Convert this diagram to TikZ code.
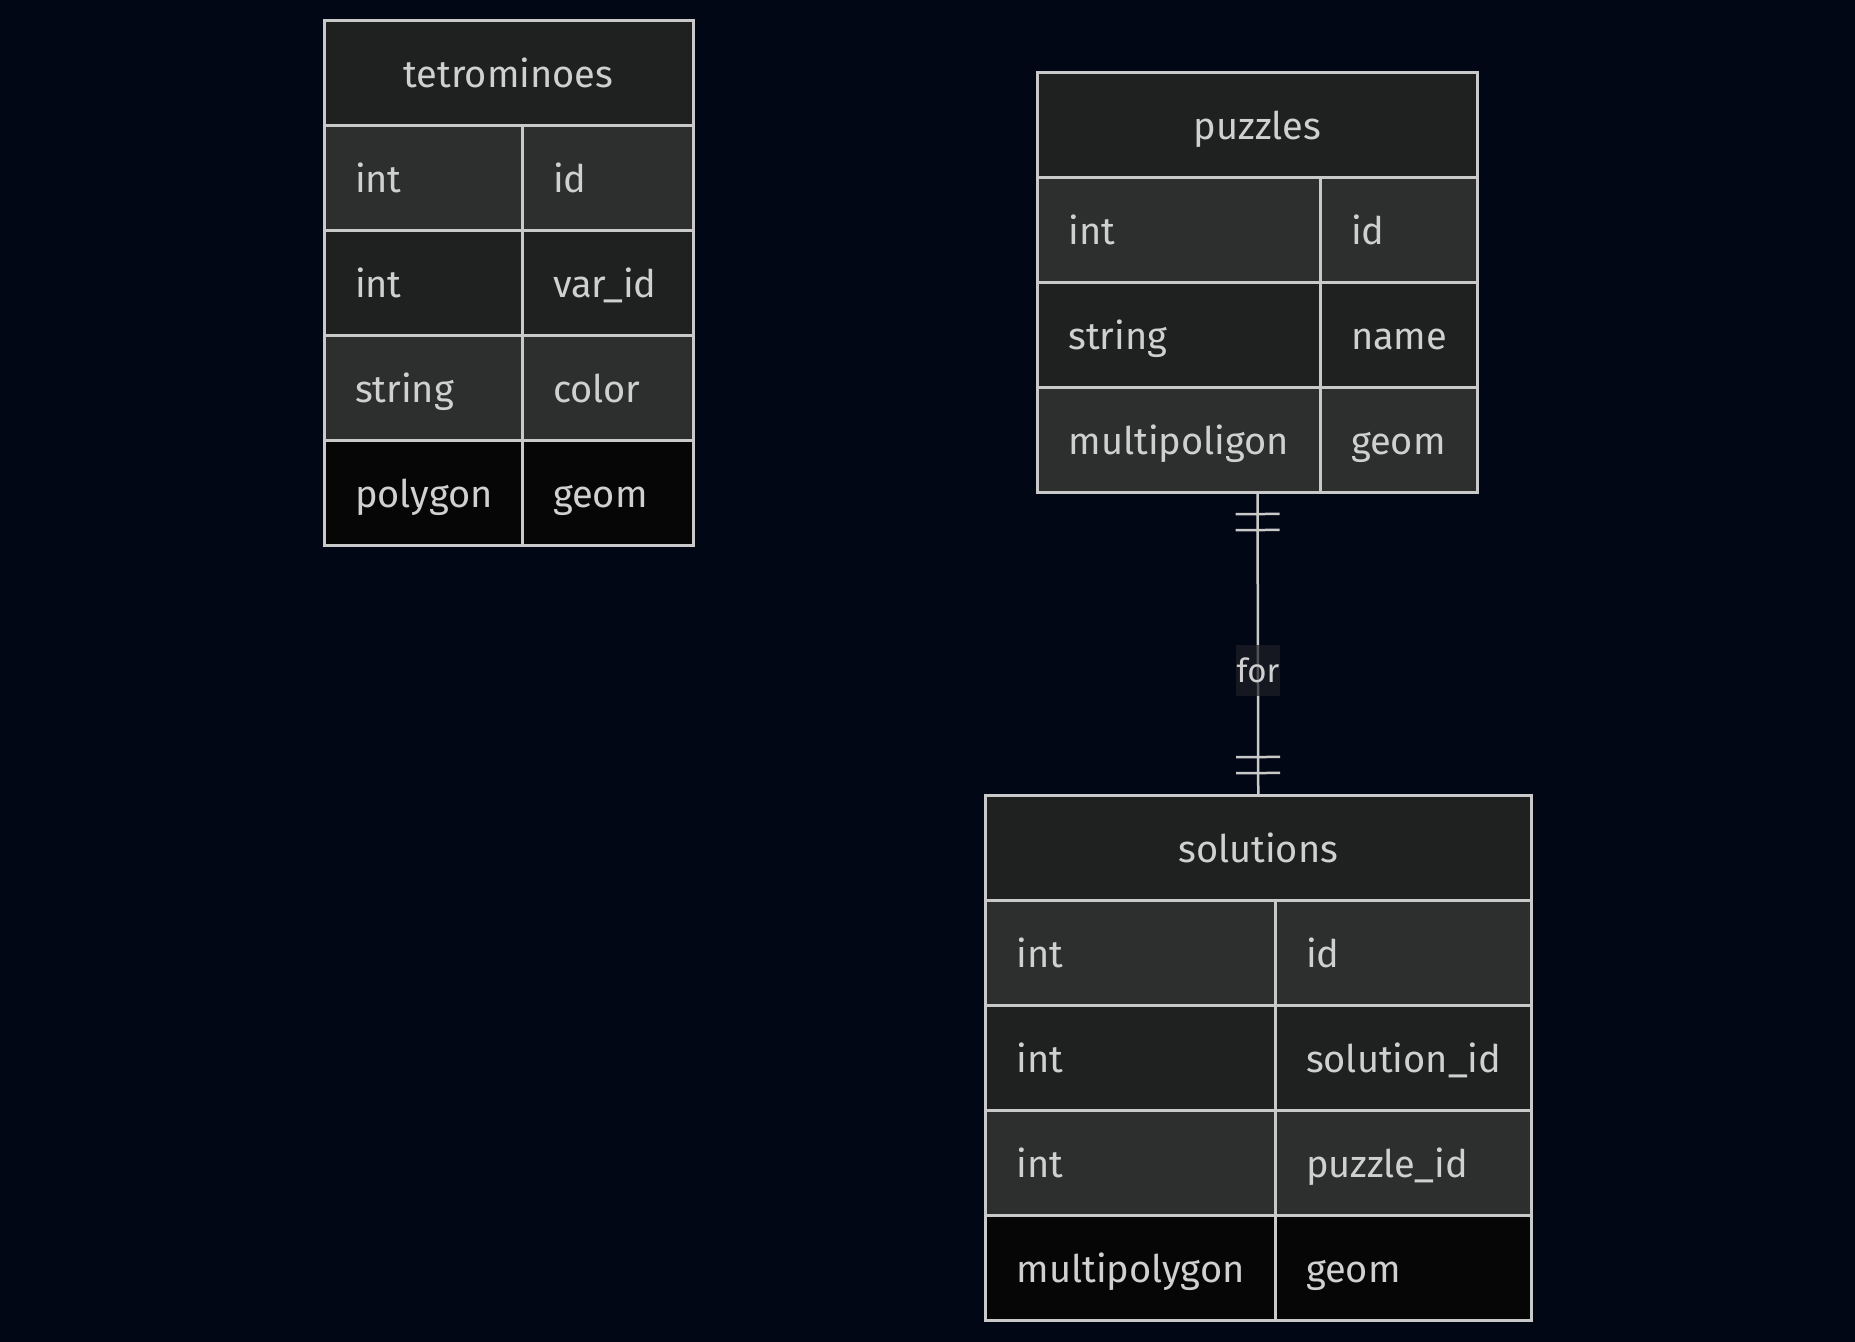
\documentclass[tikz,border=0pt]{standalone}
\usepackage{fontspec}
\setmainfont{Fira Sans}
\usepackage{tikz}
\usetikzlibrary{positioning}
\usetikzlibrary{decorations.markings}
\definecolor{bgcol}{HTML}{020716}
\definecolor{headcol}{HTML}{1F2020}
\definecolor{rowodd}{HTML}{2D2E2E}
\definecolor{roweven}{HTML}{1F2020}
\definecolor{rowlast}{HTML}{060606}
\definecolor{edgecol}{HTML}{C9C9C9}
\definecolor{txtcol}{HTML}{D0D0D0}
\definecolor{lblcol}{HTML}{1E2026}
\newcommand{\cellfont}{\fontsize{19pt}{23pt}\selectfont}
\newcommand{\lblfont}{\fontsize{16.5pt}{20pt}\selectfont}
\tikzset{
    entity/.style={
           rectangle,
           draw=edgecol, line width=1.5pt,
           fill=headcol,
           outer sep=0pt,
           minimum height=52.5pt,
           text height=15pt, text depth=0pt,
           text=txtcol,
           font=\cellfont,
           },
    attr/.style={
           rectangle,
           draw=edgecol, line width=1.5pt,
           outer sep=0pt,
           inner xsep=15.5pt,
           minimum height=52.5pt,
           text height=15pt, text depth=0pt,
           align=left,
           text=txtcol,
           font=\cellfont,
           },
    oddrow/.style={attr, fill=rowodd},
    evenrow/.style={attr, fill=roweven},
    lastrow/.style={attr, fill=rowlast},
    relline/.style={draw=edgecol, line width=1.25pt},
    exactlyone/.style={
           postaction={decorate, decoration={markings,
              mark=at position 11pt with {\draw[relline] (0pt,-11pt) -- (0pt,11pt);},
              mark=at position 19pt with {\draw[relline] (0pt,-11pt) -- (0pt,11pt);},
              mark=at position -19pt with {\draw[relline] (0pt,-11pt) -- (0pt,11pt);},
              mark=at position -11pt with {\draw[relline] (0pt,-11pt) -- (0pt,11pt);}}}
           },
    forlbl/.style={
           fill=lblcol, fill opacity=0.7, text opacity=1,
           text=txtcol, font=\lblfont,
           inner sep=0pt,
           minimum width=22pt, minimum height=25.5pt,
           },
}

\begin{document}
\begin{tikzpicture}
      % page and background
      \useasboundingbox (0,0) rectangle (927.5pt,-670.5pt);
      \fill[bgcol] (-3pt,3pt) rectangle (930.5pt,-673.5pt);

      % TABLE TETROMINOES
      \node[entity, minimum width=184.5pt] (tetro) at (254.25pt,-36.25pt) {tetrominoes};
      \node[oddrow, text width=68pt, below right=0pt and 0pt of tetro.south west] (tidt) {int};
      \node[oddrow, text width=54.5pt, right=0pt of tidt] (tidn) {id};
      \node[evenrow, text width=68pt, below=0pt of tidt] (tvart) {int};
      \node[evenrow, text width=54.5pt, right=0pt of tvart] (tvarn) {var\_id};
      \node[oddrow, text width=68pt, below=0pt of tvart] (tcolt) {string};
      \node[oddrow, text width=54.5pt, right=0pt of tcolt] (tcoln) {color};
      \node[lastrow, text width=68pt, below=0pt of tcolt] (tgeomt) {polygon};
      \node[lastrow, text width=54.5pt, right=0pt of tgeomt] (tgeomn) {geom};

      % TABLE PUZZLES
      \node[entity, minimum width=220pt] (puz) at (628.75pt,-62.25pt) {puzzles};
      \node[oddrow, text width=110.25pt, below right=0pt and 0pt of puz.south west] (pidt) {int};
      \node[oddrow, text width=47.75pt, right=0pt of pidt] (pidn) {id};
      \node[evenrow, text width=110.25pt, below=0pt of pidt] (pnamet) {string};
      \node[evenrow, text width=47.75pt, right=0pt of pnamet] (pnamen) {name};
      \node[oddrow, text width=110.25pt, below=0pt of pnamet] (pgeomt) {multipoligon};
      \node[oddrow, text width=47.75pt, right=0pt of pgeomt] (pgeomn) {geom};

      % TABLE SOLUTIONS
      \node[entity, minimum width=272.75pt] (sol) at (629.125pt,-423.75pt) {solutions};
      \node[oddrow, text width=113.75pt, below right=0pt and 0pt of sol.south west] (sidt) {int};
      \node[oddrow, text width=97pt, right=0pt of sidt] (sidn) {id};
      \node[evenrow, text width=113.75pt, below=0pt of sidt] (ssolt) {int};
      \node[evenrow, text width=97pt, right=0pt of ssolt] (ssoln) {solution\_id};
      \node[oddrow, text width=113.75pt, below=0pt of ssolt] (spuzt) {int};
      \node[oddrow, text width=97pt, right=0pt of spuzt] (spuzn) {puzzle\_id};
      \node[lastrow, text width=113.75pt, below=0pt of spuzt] (sgeomt) {multipolygon};
      \node[lastrow, text width=97pt, right=0pt of sgeomt] (sgeomn) {geom};

      % relation puzzles -- solutions
      \path
      (puz |- pgeomt.south) edge [relline, exactlyone] node[forlbl, pos=0.59]{for} (sol.north)
      ;
\end{tikzpicture}
\end{document}
